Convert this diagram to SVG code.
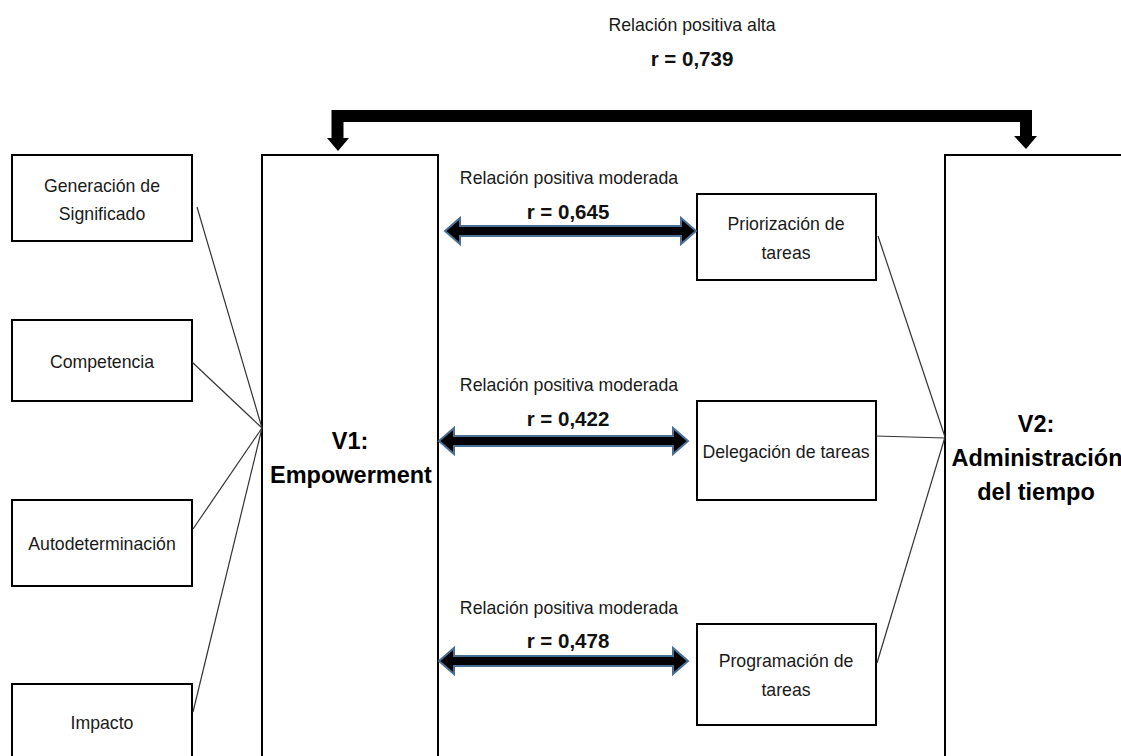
<svg xmlns="http://www.w3.org/2000/svg" width="1121" height="756" viewBox="0 0 1121 756">
  <style>
    .box { fill: #ffffff; stroke: #000000; stroke-width: 2; }
    .lbl { font-family: "Liberation Sans", Arial, sans-serif; font-size: 17.7px; fill: #1a1a1a; text-anchor: middle; }
    .r { font-family: "Liberation Sans", Arial, sans-serif; font-size: 20.5px; font-weight: bold; fill: #111111; text-anchor: middle; }
    .var { font-family: "Liberation Sans", Arial, sans-serif; font-size: 23.5px; font-weight: bold; fill: #000000; text-anchor: middle; }
    .thin { stroke: #333333; stroke-width: 1.2; fill: none; }
    .dbl { fill: #000000; stroke: #4a6f95; stroke-width: 2; stroke-linejoin: miter; }
  </style>

  <!-- main variables -->
  <g id="v1">
    <rect class="box" x="262" y="155" width="176" height="620"/>
    <text class="var" x="350" y="449">V1:</text>
    <text class="var" x="351" y="483">Empowerment</text>
  </g>
  <g id="v2">
    <rect class="box" x="945" y="155" width="200" height="620"/>
    <text class="var" x="1036" y="432">V2:</text>
    <text class="var" x="1037" y="466">Administración</text>
    <text class="var" x="1036" y="500">del tiempo</text>
  </g>

  <!-- dimensions of V1 -->
  <g id="generacion">
    <rect class="box" x="12" y="155" width="180" height="86"/>
    <text class="lbl" x="102" y="192">Generación de</text>
    <text class="lbl" x="102" y="220">Significado</text>
  </g>
  <g id="competencia">
    <rect class="box" x="12" y="320" width="180" height="81"/>
    <text class="lbl" x="102" y="368">Competencia</text>
  </g>
  <g id="autodeterminacion">
    <rect class="box" x="12" y="500" width="180" height="86"/>
    <text class="lbl" x="102" y="550">Autodeterminación</text>
  </g>
  <g id="impacto">
    <rect class="box" x="12" y="684" width="180" height="90"/>
    <text class="lbl" x="102" y="729">Impacto</text>
  </g>

  <!-- dimensions of V2 -->
  <g id="priorizacion">
    <rect class="box" x="697" y="194" width="179" height="86"/>
    <text class="lbl" x="786" y="230">Priorización de</text>
    <text class="lbl" x="786" y="259">tareas</text>
  </g>
  <g id="delegacion">
    <rect class="box" x="697" y="401" width="179" height="99"/>
    <text class="lbl" x="786" y="458">Delegación de tareas</text>
  </g>
  <g id="programacion">
    <rect class="box" x="697" y="624" width="179" height="101"/>
    <text class="lbl" x="786" y="667">Programación de</text>
    <text class="lbl" x="786" y="696">tareas</text>
  </g>

  <!-- connectors -->
  <g id="connectors">
    <!-- dimension links -->
    <line class="thin" x1="197" y1="207" x2="262" y2="428"/>
    <line class="thin" x1="192" y1="362" x2="262" y2="428"/>
    <line class="thin" x1="193" y1="529" x2="262" y2="428"/>
    <line class="thin" x1="193" y1="712" x2="262" y2="428"/>
    <line class="thin" x1="878" y1="236" x2="945" y2="437"/>
    <line class="thin" x1="876" y1="436" x2="945" y2="438"/>
    <line class="thin" x1="877" y1="663" x2="945" y2="437"/>

    <!-- overall relation -->
    <path d="M337.5 139 V116 H1026 V137" fill="none" stroke="#000000" stroke-width="12"/>
    <polygon points="327,138 349,138 338,151" fill="#000000"/>
    <polygon points="1014,136 1037,136 1026,149" fill="#000000"/>

    <!-- double arrows -->
    <polygon class="dbl" points="445,231 460,218 460,226 681,226 681,218 696,231 681,244 681,236 460,236 460,244"/>
    <polygon class="dbl" points="439,441 454,428 454,436 673,436 673,428 688,441 673,454 673,446 454,446 454,454"/>
    <polygon class="dbl" points="439,661 454,648 454,656 673,656 673,648 688,661 673,674 673,666 454,666 454,674"/>
  </g>

  <!-- relation labels -->
  <g id="labels">
    <text class="lbl" x="692" y="31" font-size="16.4">Relación positiva alta</text>
    <text class="r" x="692" y="66" font-size="17.2">r = 0,739</text>
    <text class="lbl" x="569" y="184">Relación positiva moderada</text>
    <text class="r" x="568" y="219">r = 0,645</text>
    <text class="lbl" x="569" y="391">Relación positiva moderada</text>
    <text class="r" x="568" y="426">r = 0,422</text>
    <text class="lbl" x="569" y="614">Relación positiva moderada</text>
    <text class="r" x="568" y="648">r = 0,478</text>
  </g>
</svg>
